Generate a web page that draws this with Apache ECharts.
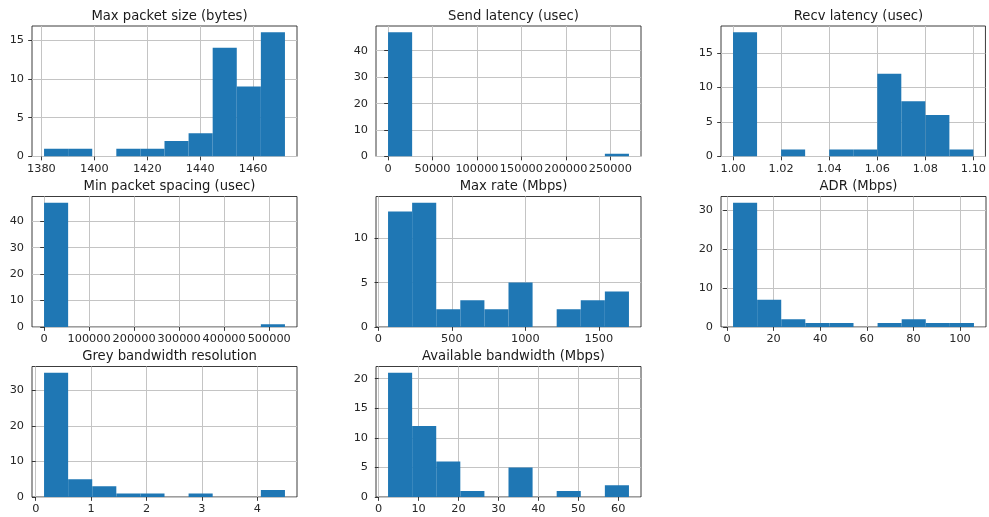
<!DOCTYPE html>
<html>
<head>
<meta charset="utf-8">
<script src="https://cdn.jsdelivr.net/npm/echarts@6/dist/echarts.min.js"></script>
<style>
html,body{margin:0;padding:0;background:#fff;}
#chart{width:989px;height:517px;}
</style>
</head>
<body>
<div id="chart"></div>
<script>
// ---- Data (10 equal bins between range ends) ----
const titles = ["Max packet size (bytes)", "Send latency (usec)", "Recv latency (usec)",
  "Min packet spacing (usec)", "Max rate (Mbps)", "ADR (Mbps)",
  "Grey bandwidth resolution", "Available bandwidth (Mbps)"];

const maxPacketRange = [1381, 1472];
const maxPacketCounts = [1, 1, 0, 1, 1, 2, 3, 14, 9, 16];
const sendLatRange = [0, 271000];
const sendLatCounts = [47, 0, 0, 0, 0, 0, 0, 0, 0, 1];
const recvLatRange = [1.00, 1.10];
const recvLatCounts = [18, 0, 1, 0, 1, 1, 12, 8, 6, 1];
const minSpacingRange = [0, 535000];
const minSpacingCounts = [47, 0, 0, 0, 0, 0, 0, 0, 0, 1];
const maxRateRange = [66, 1705];
const maxRateCounts = [13, 14, 2, 3, 2, 5, 0, 2, 3, 4];
const adrRange = [2.6, 106];
const adrCounts = [32, 7, 2, 1, 1, 0, 1, 2, 1, 1];
const greyRange = [0.15, 4.5];
const greyCounts = [35, 5, 3, 1, 1, 0, 1, 0, 0, 2];
const availRange = [2.35, 62.7];
const availCounts = [21, 12, 6, 1, 0, 5, 0, 1, 0, 2];

const xTicks = [
  [1380, 1400, 1420, 1440, 1460],
  [0, 50000, 100000, 150000, 200000, 250000],
  [1.00, 1.02, 1.04, 1.06, 1.08, 1.10],
  [0, 100000, 200000, 300000, 400000, 500000],
  [0, 500, 1000, 1500],
  [0, 20, 40, 60, 80, 100],
  [0, 1, 2, 3, 4],
  [0, 10, 20, 30, 40, 50, 60]
];
const yTicks = [
  [0, 5, 10, 15],
  [0, 10, 20, 30, 40],
  [0, 5, 10, 15],
  [0, 10, 20, 30, 40],
  [0, 5, 10],
  [0, 10, 20, 30],
  [0, 10, 20, 30],
  [0, 5, 10, 15, 20]
];
const xDecimals = [0, 0, 2, 0, 0, 0, 0, 0];

const ranges = [maxPacketRange, sendLatRange, recvLatRange, minSpacingRange, maxRateRange, adrRange, greyRange, availRange];
const counts = [maxPacketCounts, sendLatCounts, recvLatCounts, minSpacingCounts, maxRateCounts, adrCounts, greyCounts, availCounts];

// ---- Layout ----
const colLeft = [32, 376, 721];
const rowTop = [26, 196.5, 366.5];
const W = 265, H = 130.5;
const FONT = 'DejaVu Sans';

const grids = [], xAxes = [], yAxes = [], series = [], titleArr = [];

for (let i = 0; i < 8; i++) {
  const r = Math.floor(i / 3), c = i % 3;
  const left = colLeft[c], top = rowTop[r];
  grids.push({left: left, top: top, width: W, height: H, show: true,
    borderColor: '#262626', borderWidth: 0.9, backgroundColor: 'transparent', containLabel: false});
  titleArr.push({text: titles[i], left: left + W / 2, top: top - 21, textAlign: 'center',
    textStyle: {fontFamily: FONT, fontSize: 13.2, fontWeight: 'normal', color: '#1a1a1a'}});

  const [lo, hi] = ranges[i];
  const span = hi - lo;
  const bw = span / 10;
  const data = counts[i].map((v, k) => [lo + k * bw, lo + (k + 1) * bw, v]);
  const ymax = Math.max.apply(null, counts[i]) * 1.05;
  const dec = xDecimals[i];

  xAxes.push({type: 'value', gridIndex: i, min: lo - 0.05 * span, max: hi + 0.05 * span,
    axisLine: {show: false},
    axisTick: {show: true, length: 3.85, lineStyle: {color: '#262626', width: 0.9}, customValues: xTicks[i]},
    axisLabel: {show: true, customValues: xTicks[i], fontFamily: FONT, fontSize: 11.3, color: '#262626', margin: 7,
      formatter: v => Number(v).toFixed(dec), hideOverlap: false},
    splitLine: {show: true, lineStyle: {color: '#c4c4c4', width: 1}}
  });
  yAxes.push({type: 'value', gridIndex: i, min: 0, max: ymax,
    axisLine: {show: false},
    axisTick: {show: true, length: 3.85, lineStyle: {color: '#262626', width: 0.9}, customValues: yTicks[i]},
    axisLabel: {show: true, customValues: yTicks[i], fontFamily: FONT, fontSize: 11.3, color: '#262626', margin: 8},
    splitLine: {show: true, lineStyle: {color: '#c4c4c4', width: 1}}
  });
  series.push({type: 'custom', xAxisIndex: i, yAxisIndex: i, data: data,
    encode: {x: [0, 1], y: 2}, silent: true, animation: false, clip: true,
    renderItem: function (params, api) {
      const x0 = api.value(0), x1 = api.value(1), v = api.value(2);
      if (!v) return null;
      const p0 = api.coord([x0, 0]);
      const p1 = api.coord([x1, v]);
      return {type: 'rect',
        shape: {x: p0[0], y: p1[1], width: p1[0] - p0[0], height: p0[1] - p1[1]},
        style: {fill: '#1f77b4', stroke: null}};
    }
  });
}

const chart = echarts.init(document.getElementById('chart'), null, {renderer: 'canvas'});
chart.setOption({
  backgroundColor: '#ffffff',
  animation: false,
  title: titleArr,
  grid: grids,
  xAxis: xAxes,
  yAxis: yAxes,
  series: series
});
</script>
</body>
</html>
